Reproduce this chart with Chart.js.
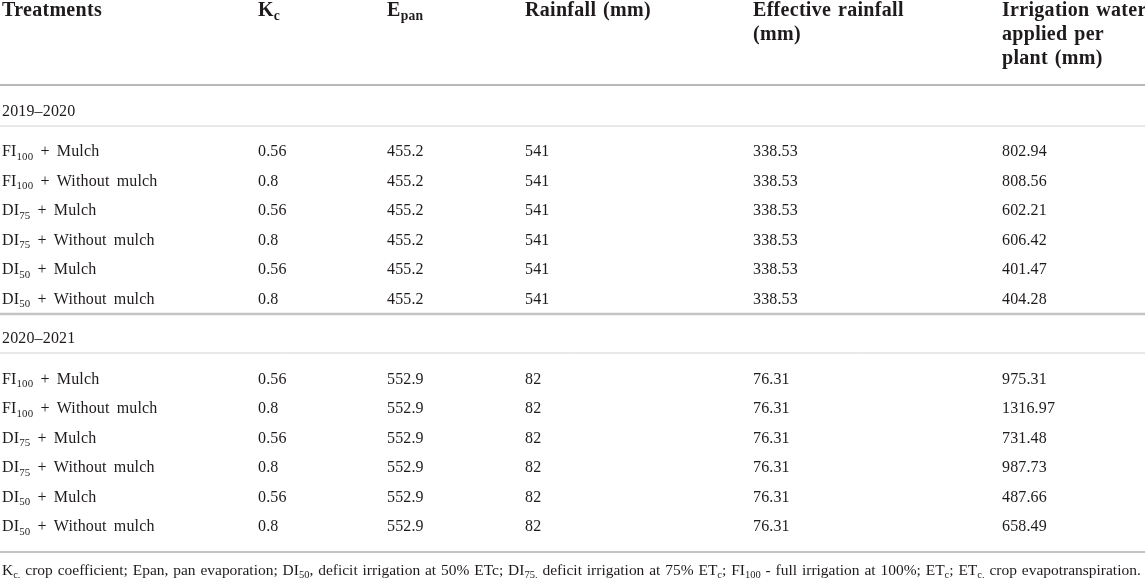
<!DOCTYPE html>
<html>
<head>
<meta charset="utf-8">
<script src="https://cdn.jsdelivr.net/npm/chart.js@4.4.1/dist/chart.umd.min.js"></script>
<style>
  html, body { margin: 0; padding: 0; background: #fff; }
  canvas { display: block; }
</style>
</head>
<body>
<canvas id="tableChart" width="1145" height="578"></canvas>
<script>
// table content
const headers = [
    ['Treatments'],
    ['K_{c}'],
    ['E_{pan}'],
    ['Rainfall (mm)'],
    ['Effective rainfall', '(mm)'],
    ['Irrigation water', 'applied per', 'plant (mm)']
];
const seasons = ['2019–2020', '2020–2021'];
const treatments = [
    'FI_{100} + Mulch',
    'FI_{100} + Without mulch',
    'DI_{75} + Mulch',
    'DI_{75} + Without mulch',
    'DI_{50} + Mulch',
    'DI_{50} + Without mulch'
];
const kc = [
    [0.56, 0.8, 0.56, 0.8, 0.56, 0.8],
    [0.56, 0.8, 0.56, 0.8, 0.56, 0.8]
];
const epan = [
    [455.2, 455.2, 455.2, 455.2, 455.2, 455.2],
    [552.9, 552.9, 552.9, 552.9, 552.9, 552.9]
];
const rainfall = [
    [541, 541, 541, 541, 541, 541],
    [82, 82, 82, 82, 82, 82]
];
const effectiveRainfall = [
    [338.53, 338.53, 338.53, 338.53, 338.53, 338.53],
    [76.31, 76.31, 76.31, 76.31, 76.31, 76.31]
];
const irrigationWater = [
    [802.94, 808.56, 602.21, 606.42, 401.47, 404.28],
    [975.31, 1316.97, 731.48, 987.73, 487.66, 658.49]
];
const footnote = 'K_{c,} crop coefficient; Epan, pan evaporation; DI_{50}, deficit irrigation at 50% ETc; ' +
    'DI_{75,} deficit irrigation at 75% ET_{c}; FI_{100} - full irrigation at 100%; ET_{c}; ET_{c,} crop evapotranspiration.';

// layout (pixels)
var colX = [2, 258, 387, 525, 753, 1002];
var headerLineY = [9, 33, 57];
var sectionY = [111, 338];
var firstRowY = [151, 378.5];
var rowStep = 29.5;
var footY = 569.5;
var rules = [
    { y: 85, w: 2, c: '#b9b9b9' },
    { y: 126, w: 1, c: '#d2d2d2' },
    { y: 314, w: 2.5, c: '#c4c4c4' },
    { y: 353, w: 1, c: '#d2d2d2' },
    { y: 552, w: 2, c: '#c4c4c4' }
];
var FONT = '"Liberation Serif", "DejaVu Serif", serif';
var TEXT = '#1f1b1c';
var BODY = 16, HEAD = 20;

function parseRich(s) {
    var out = [];
    var re = /_\{([^}]*)\}/g, last = 0, m;
    while ((m = re.exec(s)) !== null) {
        if (m.index > last) out.push({ t: s.slice(last, m.index), sub: false });
        out.push({ t: m[1], sub: true });
        last = re.lastIndex;
    }
    if (last < s.length) out.push({ t: s.slice(last), sub: false });
    return out;
}

// draws (or only measures) a string with _{sub} parts and extra word spacing
function richText(ctx, s, x, yMid, size, bold, wordGap, letterGap, draw) {
    var base = yMid + size * 0.33;
    var cx = x;
    if ('letterSpacing' in ctx) ctx.letterSpacing = letterGap + 'px';
    parseRich(s).forEach(function(seg) {
        var sz = seg.sub ? size * 0.68 : size;
        ctx.font = (bold ? 'bold ' : '') + sz + 'px ' + FONT;
        var parts = seg.t.split(' ');
        parts.forEach(function(p, k) {
            if (k > 0) cx += ctx.measureText(' ').width + wordGap;
            if (p.length) {
                if (draw) ctx.fillText(p, cx, seg.sub ? base + size * 0.22 : base);
                cx += ctx.measureText(p).width;
            }
        });
    });
    if ('letterSpacing' in ctx) ctx.letterSpacing = '0px';
    return cx - x;
}

// build one dataset per column, each point is a cell
var columnsData = [[], [], [], [], [], []];
headers.forEach(function(lines, c) {
    lines.forEach(function(txt, i) {
        columnsData[c].push({ x: colX[c], y: headerLineY[i], label: txt, bold: true, size: HEAD });
    });
});
seasons.forEach(function(season, s) {
    columnsData[0].push({ x: colX[0], y: sectionY[s], label: season, bold: false, size: BODY });
    treatments.forEach(function(t, r) {
        var y = firstRowY[s] + r * rowStep;
        var vals = [t, kc[s][r], epan[s][r], rainfall[s][r], effectiveRainfall[s][r], irrigationWater[s][r]];
        vals.forEach(function(v, c) {
            columnsData[c].push({ x: colX[c], y: y, label: String(v), bold: false, size: BODY });
        });
    });
});

var tablePlugin = {
    id: 'tableText',
    beforeDatasetsDraw: function(chart) {
        var ctx = chart.ctx, xs = chart.scales.x, ys = chart.scales.y;
        ctx.save();
        rules.forEach(function(r) {
            var y = ys.getPixelForValue(r.y);
            ctx.strokeStyle = r.c;
            ctx.lineWidth = r.w;
            ctx.beginPath();
            ctx.moveTo(xs.getPixelForValue(0), y);
            ctx.lineTo(xs.getPixelForValue(1145), y);
            ctx.stroke();
        });
        ctx.restore();
    },
    afterDatasetsDraw: function(chart) {
        var ctx = chart.ctx;
        ctx.save();
        ctx.fillStyle = TEXT;
        ctx.textAlign = 'left';
        ctx.textBaseline = 'alphabetic';
        chart.data.datasets.forEach(function(ds, i) {
            var meta = chart.getDatasetMeta(i);
            meta.data.forEach(function(el, j) {
                var d = ds.data[j];
                if (d.bold) {
                    richText(ctx, d.label, el.x, el.y, d.size, true, 1.5, 0.3, true);
                } else {
                    richText(ctx, d.label, el.x, el.y, d.size, false, 3, 0.15, true);
                }
            });
        });
        // footnote, fitted to the table width
        var fs = 15;
        var w = richText(ctx, footnote, 0, 0, fs, false, 1, 0, false);
        fs = fs * 1141 / w;
        richText(ctx, footnote, chart.scales.x.getPixelForValue(2), chart.scales.y.getPixelForValue(footY), fs, false, 1, 0, true);
        ctx.restore();
    }
};

var ctx = document.getElementById('tableChart').getContext('2d');
var tableChart = new Chart(ctx, {
    type: 'scatter',
    data: {
        datasets: columnsData.map(function(data, c) {
            return { label: 'col' + c, data: data, pointRadius: 0, pointHoverRadius: 0, clip: false };
        })
    },
    options: {
        responsive: false,
        animation: false,
        layout: { padding: 0 },
        events: [],
        plugins: {
            legend: { display: false },
            tooltip: { enabled: false }
        },
        scales: {
            x: { type: 'linear', min: 0, max: 1145, display: false },
            y: { type: 'linear', min: 0, max: 578, reverse: true, display: false }
        }
    },
    plugins: [tablePlugin]
});
</script>
</body>
</html>
